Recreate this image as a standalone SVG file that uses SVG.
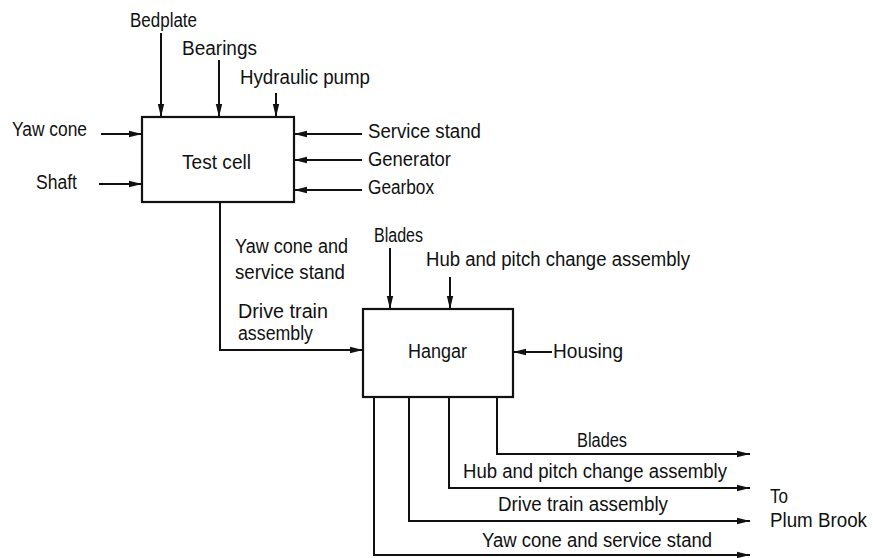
<svg xmlns="http://www.w3.org/2000/svg" width="873" height="558" viewBox="0 0 873 558">
<style>
text{font-family:"Liberation Sans","DejaVu Sans",sans-serif;font-size:19.5px;fill:#111}
.box{fill:#fff;stroke:#111;stroke-width:2.2}
.arr{fill:none;stroke:#111;stroke-width:2;marker-end:url(#ah)}
</style>
<defs>
<marker id="ah" markerUnits="userSpaceOnUse" markerWidth="14" markerHeight="8" refX="13" refY="4" orient="auto">
<path d="M0,0.8 L13,4 L0,7.2 Z" fill="#111"/>
</marker>
</defs>
<rect width="873" height="558" fill="#fff"/>
<g id="connectors">
<line class="arr" x1="161" y1="33" x2="161" y2="117"/>
<line class="arr" x1="219" y1="60" x2="219" y2="117"/>
<line class="arr" x1="276" y1="93" x2="276" y2="117"/>
<line class="arr" x1="101" y1="134" x2="142" y2="134"/>
<line class="arr" x1="99" y1="184" x2="142" y2="184"/>
<line class="arr" x1="362" y1="134" x2="294" y2="134"/>
<line class="arr" x1="362" y1="160" x2="294" y2="160"/>
<line class="arr" x1="362" y1="190" x2="294" y2="190"/>
<polyline class="arr" points="220,202 220,350 363,350"/>
<line class="arr" x1="390" y1="248" x2="390" y2="309"/>
<line class="arr" x1="450" y1="277" x2="450" y2="309"/>
<line class="arr" x1="552" y1="352" x2="513" y2="352"/>
<polyline class="arr" points="497,397 497,454 750,454"/>
<polyline class="arr" points="449,397 449,488 750,488"/>
<polyline class="arr" points="409,397 409,521 750,521"/>
<polyline class="arr" points="374,397 374,555 750,555"/>
</g>
<g id="test-cell">
<rect class="box" x="142" y="117" width="152" height="85"/>
<text x="182" y="169" textLength="69" lengthAdjust="spacingAndGlyphs">Test cell</text>
</g>
<g id="hangar">
<rect class="box" x="363" y="309" width="150" height="88"/>
<text x="408" y="358" textLength="59" lengthAdjust="spacingAndGlyphs">Hangar</text>
</g>
<g id="labels">
<text x="130" y="27" textLength="67" lengthAdjust="spacingAndGlyphs">Bedplate</text>
<text x="182" y="55" textLength="75" lengthAdjust="spacingAndGlyphs">Bearings</text>
<text x="240" y="84" textLength="130" lengthAdjust="spacingAndGlyphs">Hydraulic pump</text>
<text x="12" y="136" textLength="75" lengthAdjust="spacingAndGlyphs">Yaw cone</text>
<text x="36" y="189" textLength="41" lengthAdjust="spacingAndGlyphs">Shaft</text>
<text x="368" y="138" textLength="113" lengthAdjust="spacingAndGlyphs">Service stand</text>
<text x="368" y="166" textLength="83" lengthAdjust="spacingAndGlyphs">Generator</text>
<text x="368" y="194" textLength="66" lengthAdjust="spacingAndGlyphs">Gearbox</text>
<text x="235" y="253" textLength="113" lengthAdjust="spacingAndGlyphs">Yaw cone and</text>
<text x="235" y="279" textLength="110" lengthAdjust="spacingAndGlyphs">service stand</text>
<text x="238" y="318" textLength="90" lengthAdjust="spacingAndGlyphs">Drive train</text>
<text x="238" y="340" textLength="75" lengthAdjust="spacingAndGlyphs">assembly</text>
<text x="374" y="242" textLength="49" lengthAdjust="spacingAndGlyphs">Blades</text>
<text x="426" y="266" textLength="264" lengthAdjust="spacingAndGlyphs">Hub and pitch change assembly</text>
<text x="553" y="358" textLength="70" lengthAdjust="spacingAndGlyphs">Housing</text>
<text x="577" y="447" textLength="50" lengthAdjust="spacingAndGlyphs">Blades</text>
<text x="463" y="478" textLength="264" lengthAdjust="spacingAndGlyphs">Hub and pitch change assembly</text>
<text x="498" y="511" textLength="170" lengthAdjust="spacingAndGlyphs">Drive train assembly</text>
<text x="482" y="547" textLength="230" lengthAdjust="spacingAndGlyphs">Yaw cone and service stand</text>
<text x="770" y="503" textLength="18" lengthAdjust="spacingAndGlyphs">To</text>
<text x="770" y="527" textLength="97" lengthAdjust="spacingAndGlyphs">Plum Brook</text>
</g>
</svg>
